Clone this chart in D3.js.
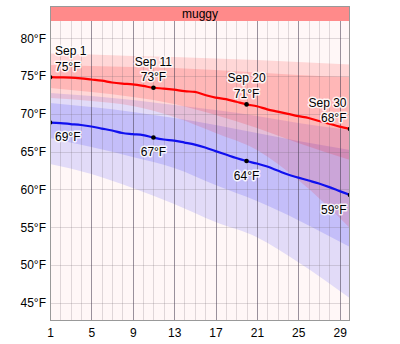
<!DOCTYPE html>
<html><head><meta charset="utf-8">
<script src="https://cdn.jsdelivr.net/npm/d3@7"></script>
<style>
body{margin:0;background:#fff}
svg{display:block}
text{font-family:"Liberation Sans",Arial,sans-serif;font-size:12px;fill:#000}
</style>
</head><body>
<svg id="chart" width="400" height="344"></svg>
<script>
// ---- data ----
const month = "Sep";
const days = [1,2,3,4,5,6,7,8,9,10,11,12,13,14,15,16,17,18,19,20,21,22,23,24,25,26,27,28,29,30];
const highMean = [74.85,74.83,74.8,74.7,74.55,74.4,74.15,74.0,73.9,73.7,73.45,73.35,73.2,73.0,72.9,72.5,72.15,71.95,71.6,71.25,71.0,70.6,70.3,70.0,69.7,69.45,69.05,68.7,68.3,68.0];
const lowMean = [68.85,68.78,68.65,68.52,68.32,68.05,67.79,67.46,67.32,67.19,66.86,66.6,66.46,66.2,65.93,65.54,65.07,64.61,64.15,63.75,63.42,63.02,62.49,61.96,61.56,61.17,60.77,60.3,59.77,59.25];
const bandDays = [1,5,9,13,17,21,25,30];
const highP90 = [77.99,77.85,77.66,77.52,77.32,77.13,76.86,76.53];
const highP75 = [76.46,76.33,76.19,76.07,75.8,75.47,75.14,74.87];
const highP25 = [73.42,72.89,72.22,71.3,69.84,68.12,66.13,63.88];
const highP10 = [72.09,71.7,71.03,69.58,67.46,65.21,61.23,54.87];
const lowP90 = [72.76,72.36,71.83,71.17,70.5,69.71,68.78,67.85];
const lowP75 = [71.43,70.9,70.24,69.44,68.52,67.46,66.4,65.21];
const lowP25 = [66.79,65.6,64.28,62.83,60.57,58.45,55.93,52.36];
const lowP10 = [63.35,62.03,60.17,58.05,55.67,53.68,50.37,45.6];
const xTicks = [1,5,9,13,17,21,25,29];
const yTicks = [45,50,55,60,65,70,75,80];
const calloutDays = [1,11,20,30];
const headerLabel = "muggy";

// ---- layout ----
const svg = d3.select("#chart");
const L = 50, R = 350, T = 21, B = 321, HT = 6;
const x = d3.scaleLinear().domain([1,30]).range([L,R]);
const y = d3.scaleLinear().domain([45,80]).range([302.7,38.3]);

svg.append("rect").attr("x",L).attr("y",T).attr("width",R-L).attr("height",B-T).attr("fill","#fff7f7");
svg.append("clipPath").attr("id","clip").append("rect").attr("x",L).attr("y",T).attr("width",R-L).attr("height",B-T);
const g = svg.append("g").attr("clip-path","url(#clip)");

function band(lo, hi, fill){
  const pts = bandDays.map((d,i)=>({d, lo:lo[i], hi:hi[i]}));
  const area = d3.area().curve(d3.curveMonotoneX).x(p=>x(p.d)).y0(p=>y(p.lo)).y1(p=>y(p.hi));
  g.append("path").datum(pts).attr("d",area).attr("fill",fill);
}
band(lowP10, lowP90, "rgba(30,30,255,0.13)");
band(lowP25, lowP75, "rgba(30,30,255,0.15)");
band(highP10, highP90, "rgba(255,0,0,0.13)");
band(highP25, highP75, "rgba(255,0,0,0.15)");

// grid
g.selectAll(".hg").data(yTicks).join("line")
  .attr("x1",L).attr("x2",R).attr("y1",d=>Math.round(y(d))+0.5).attr("y2",d=>Math.round(y(d))+0.5)
  .attr("stroke","rgba(110,100,110,0.22)");
g.selectAll(".vg").data(days.filter(d=>!xTicks.includes(d))).join("line")
  .attr("x1",d=>Math.round(x(d))+0.5).attr("x2",d=>Math.round(x(d))+0.5).attr("y1",T).attr("y2",B)
  .attr("stroke","rgba(110,100,110,0.22)");
g.selectAll(".vM").data(xTicks).join("line")
  .attr("x1",d=>Math.round(x(d))+0.5).attr("x2",d=>Math.round(x(d))+0.5).attr("y1",T).attr("y2",B)
  .attr("stroke","rgba(70,60,80,0.55)");

// lines
const line = d3.line().curve(d3.curveMonotoneX).x((v,i)=>x(days[i])).y(v=>y(v));
g.append("path").datum(highMean).attr("d",line).attr("fill","none").attr("stroke","#ff0000").attr("stroke-width",2.2);
g.append("path").datum(lowMean).attr("d",line).attr("fill","none").attr("stroke","#1010ee").attr("stroke-width",2.2);
calloutDays.forEach(d=>{
  const i = days.indexOf(d);
  g.append("circle").attr("cx",x(d)).attr("cy",y(highMean[i])).attr("r",2.3).attr("fill","#000");
  g.append("circle").attr("cx",x(d)).attr("cy",y(lowMean[i])).attr("r",2.3).attr("fill","#000");
});

// callout labels
const lab = svg.append("g");
function halo(t){ t.attr("stroke","rgba(255,255,255,0.85)").attr("stroke-width",3).attr("stroke-linejoin","round").attr("paint-order","stroke"); return t; }
calloutDays.forEach((d,k)=>{
  const i = days.indexOf(d);
  let ax = x(d), anchor = "middle";
  if (k===0){ ax = x(d)+5; anchor="start"; }
  if (k===calloutDays.length-1){ ax = x(d)-3.5; anchor="end"; }
  const hy = y(highMean[i]), ly = y(lowMean[i]);
  halo(lab.append("text").attr("x",ax).attr("y",hy-22).attr("text-anchor",anchor).text(month+" "+d));
  halo(lab.append("text").attr("x",ax).attr("y",hy-6.5).attr("text-anchor",anchor).text(Math.round(highMean[i])+"°F"));
  halo(lab.append("text").attr("x",ax).attr("y",ly+18.5).attr("text-anchor",anchor).text(Math.round(lowMean[i])+"°F"));
});

// header
svg.append("rect").attr("x",L).attr("y",HT).attr("width",R-L).attr("height",T-HT).attr("fill","#ff8a8a");
svg.append("text").attr("x",(L+R)/2).attr("y",T-3.5).attr("text-anchor","middle").text(headerLabel);

// frame
svg.append("rect").attr("x",L+0.5).attr("y",HT+0.5).attr("width",R-L-1).attr("height",B-HT-1)
  .attr("fill","none").attr("stroke","#999");

// axes
const ya = svg.append("g").attr("transform",`translate(${L},0)`)
  .call(d3.axisLeft(y).tickValues(yTicks).tickSize(0).tickPadding(4).tickFormat(d=>d+"°F"));
ya.select(".domain").remove();
ya.selectAll("text").style("font-size","12px").style("font-family",'"Liberation Sans",Arial,sans-serif');
const xa = svg.append("g").attr("transform",`translate(0,${B})`)
  .call(d3.axisBottom(x).tickValues(xTicks).tickSize(0).tickPadding(7).tickFormat(d=>d));
xa.select(".domain").remove();
xa.selectAll("text").style("font-size","12px").style("font-family",'"Liberation Sans",Arial,sans-serif');
</script>
</body></html>
